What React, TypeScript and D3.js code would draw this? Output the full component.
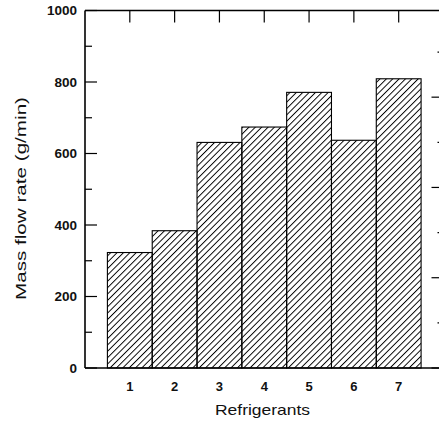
import * as d3 from "d3";

const refrigerants = ["1", "2", "3", "4", "5", "6", "7"];
const massFlow = [323, 384, 631, 674, 771, 637, 809];
const yMajorTicks = [0, 200, 400, 600, 800, 1000];
const yMinorTicks = [100, 300, 500, 700, 900];
const rightMajorTicks = [0, 2, 4, 6];
const rightMinorTicks = [1, 3, 5, 7];

const W = 439;
const H = 423;
const left = 85;
const top = 10.5;
const bottom = 368;

export default function App() {
  const x = d3.scaleLinear().domain([0, 8]).range([left, 443.5]);
  const y = d3.scaleLinear().domain([0, 1000]).range([bottom, top]);
  const yRight = d3.scaleLinear().domain([0, 7.92]).range([bottom, top]);
  const right = x(8);
  const font = "'Liberation Sans', Arial, sans-serif";

  return (
    <svg
      width={W}
      height={H}
      style={{ position: "fixed", left: 0, top: 0, background: "#fff" }}
      fontFamily={font}
    >
      <defs>
        <pattern
          id="hatch"
          patternUnits="userSpaceOnUse"
          width={4.5}
          height={4.5}
          patternTransform="rotate(45)"
        >
          <line x1={0} y1={0} x2={0} y2={4.5} stroke="#000" strokeWidth={1.9} />
        </pattern>
      </defs>

      {/* bars */}
      {massFlow.map((v, i) => (
        <rect
          key={i}
          x={x(i + 0.5)}
          y={y(v)}
          width={x(i + 1.5) - x(i + 0.5)}
          height={bottom - y(v)}
          fill="url(#hatch)"
          stroke="#000"
          strokeWidth={1.1}
        />
      ))}

      {/* frame */}
      <line x1={left} x2={left} y1={top} y2={bottom} stroke="#000" strokeWidth={1.6} />
      <line x1={left} x2={right} y1={top} y2={top} stroke="#000" strokeWidth={1.6} />
      <line x1={left} x2={right} y1={bottom} y2={bottom} stroke="#000" strokeWidth={1.6} />
      <line x1={right} x2={right} y1={top} y2={bottom} stroke="#000" strokeWidth={1.6} />

      {/* left ticks */}
      {yMajorTicks.map((t) => (
        <g key={t}>
          <line x1={left} x2={left + 12} y1={y(t)} y2={y(t)} stroke="#000" strokeWidth={1.2} />
          <text
            x={left - 8}
            y={y(t)}
            dy="0.36em"
            textAnchor="end"
            fontSize={13.5}
            fontWeight="bold"
            fill="#111"
          >
            {t}
          </text>
        </g>
      ))}
      {yMinorTicks.map((t) => (
        <line key={t} x1={left} x2={left + 7} y1={y(t)} y2={y(t)} stroke="#000" strokeWidth={1.2} />
      ))}

      {/* right ticks */}
      {rightMajorTicks.map((t) => (
        <line key={t} x1={right - 12} x2={right} y1={yRight(t)} y2={yRight(t)} stroke="#000" strokeWidth={1.2} />
      ))}
      {rightMinorTicks.map((t) => (
        <line key={t} x1={right - 6} x2={right} y1={yRight(t)} y2={yRight(t)} stroke="#000" strokeWidth={1.2} />
      ))}

      {/* top ticks and bottom labels */}
      {refrigerants.map((r, i) => (
        <g key={r}>
          <line x1={x(i + 1)} x2={x(i + 1)} y1={top} y2={top + 12} stroke="#000" strokeWidth={1.2} />
          <text
            x={x(i + 1)}
            y={391}
            textAnchor="middle"
            fontSize={13}
            fontWeight="bold"
            fill="#111"
          >
            {r}
          </text>
        </g>
      ))}

      {/* axis titles */}
      <text
        x={262.5}
        y={415}
        textAnchor="middle"
        fontSize={14.5}
        textLength={95}
        lengthAdjust="spacingAndGlyphs"
        fill="#111"
      >
        Refrigerants
      </text>
      <text
        transform={`translate(26,${198.5}) rotate(-90)`}
        textAnchor="middle"
        fontSize={14.5}
        textLength={203}
        lengthAdjust="spacingAndGlyphs"
        fill="#111"
      >
        Mass flow rate (g/min)
      </text>
    </svg>
  );
}
